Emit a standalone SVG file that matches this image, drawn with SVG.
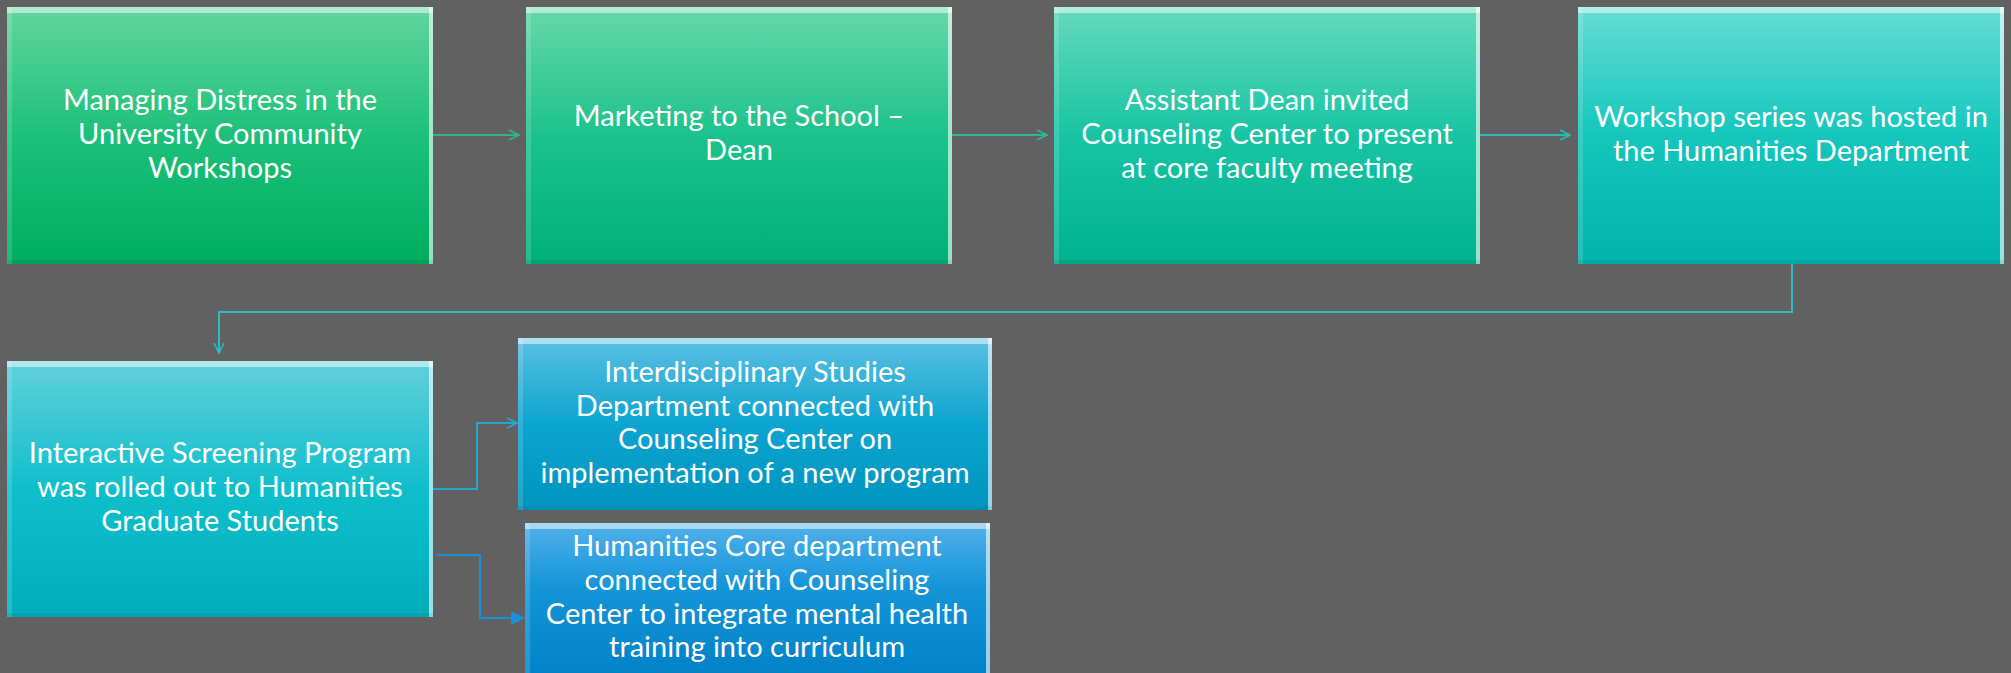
<svg xmlns="http://www.w3.org/2000/svg" width="2011" height="673" viewBox="0 0 2011 673">
<defs>
<linearGradient id="g1" x1="0" y1="0" x2="0" y2="1"><stop offset="0" stop-color="#62d69c"/><stop offset="0.5" stop-color="#1cc07a"/><stop offset="1" stop-color="#00ad5e"/></linearGradient>
<linearGradient id="g2" x1="0" y1="0" x2="0" y2="1"><stop offset="0" stop-color="#66d8aa"/><stop offset="0.5" stop-color="#1cc28c"/><stop offset="1" stop-color="#00b079"/></linearGradient>
<linearGradient id="g3" x1="0" y1="0" x2="0" y2="1"><stop offset="0" stop-color="#64dabb"/><stop offset="0.5" stop-color="#18c4a4"/><stop offset="1" stop-color="#00b290"/></linearGradient>
<linearGradient id="g4" x1="0" y1="0" x2="0" y2="1"><stop offset="0" stop-color="#66ddd3"/><stop offset="0.5" stop-color="#14c6bc"/><stop offset="1" stop-color="#00b4ac"/></linearGradient>
<linearGradient id="g5" x1="0" y1="0" x2="0" y2="1"><stop offset="0" stop-color="#62d0dc"/><stop offset="0.5" stop-color="#0ebfcb"/><stop offset="1" stop-color="#00aeba"/></linearGradient>
<linearGradient id="g6" x1="0" y1="0" x2="0" y2="1"><stop offset="0" stop-color="#5cc0e2"/><stop offset="0.5" stop-color="#0ca4d0"/><stop offset="1" stop-color="#0094bf"/></linearGradient>
<linearGradient id="g7" x1="0" y1="0" x2="0" y2="1"><stop offset="0" stop-color="#52b0ea"/><stop offset="0.4" stop-color="#1495d8"/><stop offset="1" stop-color="#0080c6"/></linearGradient>
<marker id="open" viewBox="0 0 12 12" refX="11" refY="6" markerWidth="12" markerHeight="12" markerUnits="userSpaceOnUse" orient="auto"><path d="M1,1 L11,6 L1,11" fill="none" stroke="context-stroke" stroke-width="1.6"/></marker>
<marker id="fill" viewBox="0 0 12 12" refX="11" refY="6" markerWidth="14" markerHeight="14" markerUnits="userSpaceOnUse" orient="auto"><path d="M0,0 L12,6 L0,12 Z" fill="#1a90d8"/></marker>
</defs>
<style>
.t{font-family:"Lato","Liberation Sans",sans-serif;font-size:29px;fill:#ffffff;text-anchor:middle}
.hl{fill:#ffffff;opacity:0.5}
.hr{fill:#ffffff;opacity:0.6}
.hlft{fill:#ffffff;opacity:0.15}
.sh{fill:#000000;opacity:0.06}
.c{fill:none;stroke-width:2}
</style>
<rect width="2011" height="673" fill="#616161"/>
<g id="connectors">
<path class="c" d="M433,135 H519" stroke="#2fb585" marker-end="url(#open)"/>
<path class="c" d="M952,135 H1047" stroke="#2cb898" marker-end="url(#open)"/>
<path class="c" d="M1480,135 H1570" stroke="#2cbab2" marker-end="url(#open)"/>
<path class="c" d="M1792,263 V312 H219 V353" stroke="#2cbcc4" marker-end="url(#open)"/>
<path class="c" d="M433,489 H477 V423 H517" stroke="#26a8cc" marker-end="url(#open)"/>
<path class="c" d="M437,555 H480 V618 H524" stroke="#1a90d8" marker-end="url(#fill)"/>
</g>
<g id="n1">
<rect x="7" y="7" width="426" height="257" fill="url(#g1)"/>
<rect class="hl" x="7" y="7" width="426" height="6"/>
<rect class="hlft" x="7" y="7" width="5" height="257"/>
<rect class="hr" x="429" y="7" width="4" height="257"/>
<rect class="sh" x="7" y="260" width="426" height="4"/>
<text class="t" x="220" y="110">Managing Distress in the</text>
<text class="t" x="220" y="144">University Community</text>
<text class="t" x="220" y="178">Workshops</text>
</g>
<g id="n2">
<rect x="526" y="7" width="426" height="257" fill="url(#g2)"/>
<rect class="hl" x="526" y="7" width="426" height="6"/>
<rect class="hlft" x="526" y="7" width="5" height="257"/>
<rect class="hr" x="948" y="7" width="4" height="257"/>
<rect class="sh" x="526" y="260" width="426" height="4"/>
<text class="t" x="739" y="126">Marketing to the School –</text>
<text class="t" x="739" y="160">Dean</text>
</g>
<g id="n3">
<rect x="1054" y="7" width="426" height="257" fill="url(#g3)"/>
<rect class="hl" x="1054" y="7" width="426" height="6"/>
<rect class="hlft" x="1054" y="7" width="5" height="257"/>
<rect class="hr" x="1476" y="7" width="4" height="257"/>
<rect class="sh" x="1054" y="260" width="426" height="4"/>
<text class="t" x="1267" y="110">Assistant Dean invited</text>
<text class="t" x="1267" y="144">Counseling Center to present</text>
<text class="t" x="1267" y="178">at core faculty meeting</text>
</g>
<g id="n4">
<rect x="1578" y="7" width="426" height="257" fill="url(#g4)"/>
<rect class="hl" x="1578" y="7" width="426" height="6"/>
<rect class="hlft" x="1578" y="7" width="5" height="257"/>
<rect class="hr" x="2000" y="7" width="4" height="257"/>
<rect class="sh" x="1578" y="260" width="426" height="4"/>
<text class="t" x="1791" y="127">Workshop series was hosted in</text>
<text class="t" x="1791" y="161">the Humanities Department</text>
</g>
<g id="n5">
<rect x="7" y="361" width="426" height="256" fill="url(#g5)"/>
<rect class="hl" x="7" y="361" width="426" height="6"/>
<rect class="hlft" x="7" y="361" width="5" height="256"/>
<rect class="hr" x="429" y="361" width="4" height="256"/>
<rect class="sh" x="7" y="613" width="426" height="4"/>
<text class="t" x="220" y="463">Interactive Screening Program</text>
<text class="t" x="220" y="497">was rolled out to Humanities</text>
<text class="t" x="220" y="531">Graduate Students</text>
</g>
<g id="n6">
<rect x="518" y="338" width="474" height="172" fill="url(#g6)"/>
<rect class="hl" x="518" y="338" width="474" height="6"/>
<rect class="hlft" x="518" y="338" width="5" height="172"/>
<rect class="hr" x="988" y="338" width="4" height="172"/>
<rect class="sh" x="518" y="506" width="474" height="4"/>
<text class="t" x="755" y="382">Interdisciplinary Studies</text>
<text class="t" x="755" y="416">Department connected with</text>
<text class="t" x="755" y="449">Counseling Center on</text>
<text class="t" x="755" y="483">implementation of a new program</text>
</g>
<g id="n7">
<rect x="525" y="523" width="465" height="160" fill="url(#g7)"/>
<rect class="hl" x="525" y="523" width="465" height="6"/>
<rect class="hlft" x="525" y="523" width="5" height="160"/>
<rect class="hr" x="986" y="523" width="4" height="160"/>
<text class="t" x="757" y="556">Humanities Core department</text>
<text class="t" x="757" y="590">connected with Counseling</text>
<text class="t" x="757" y="624">Center to integrate mental health</text>
<text class="t" x="757" y="657">training into curriculum</text>
</g>
</svg>
